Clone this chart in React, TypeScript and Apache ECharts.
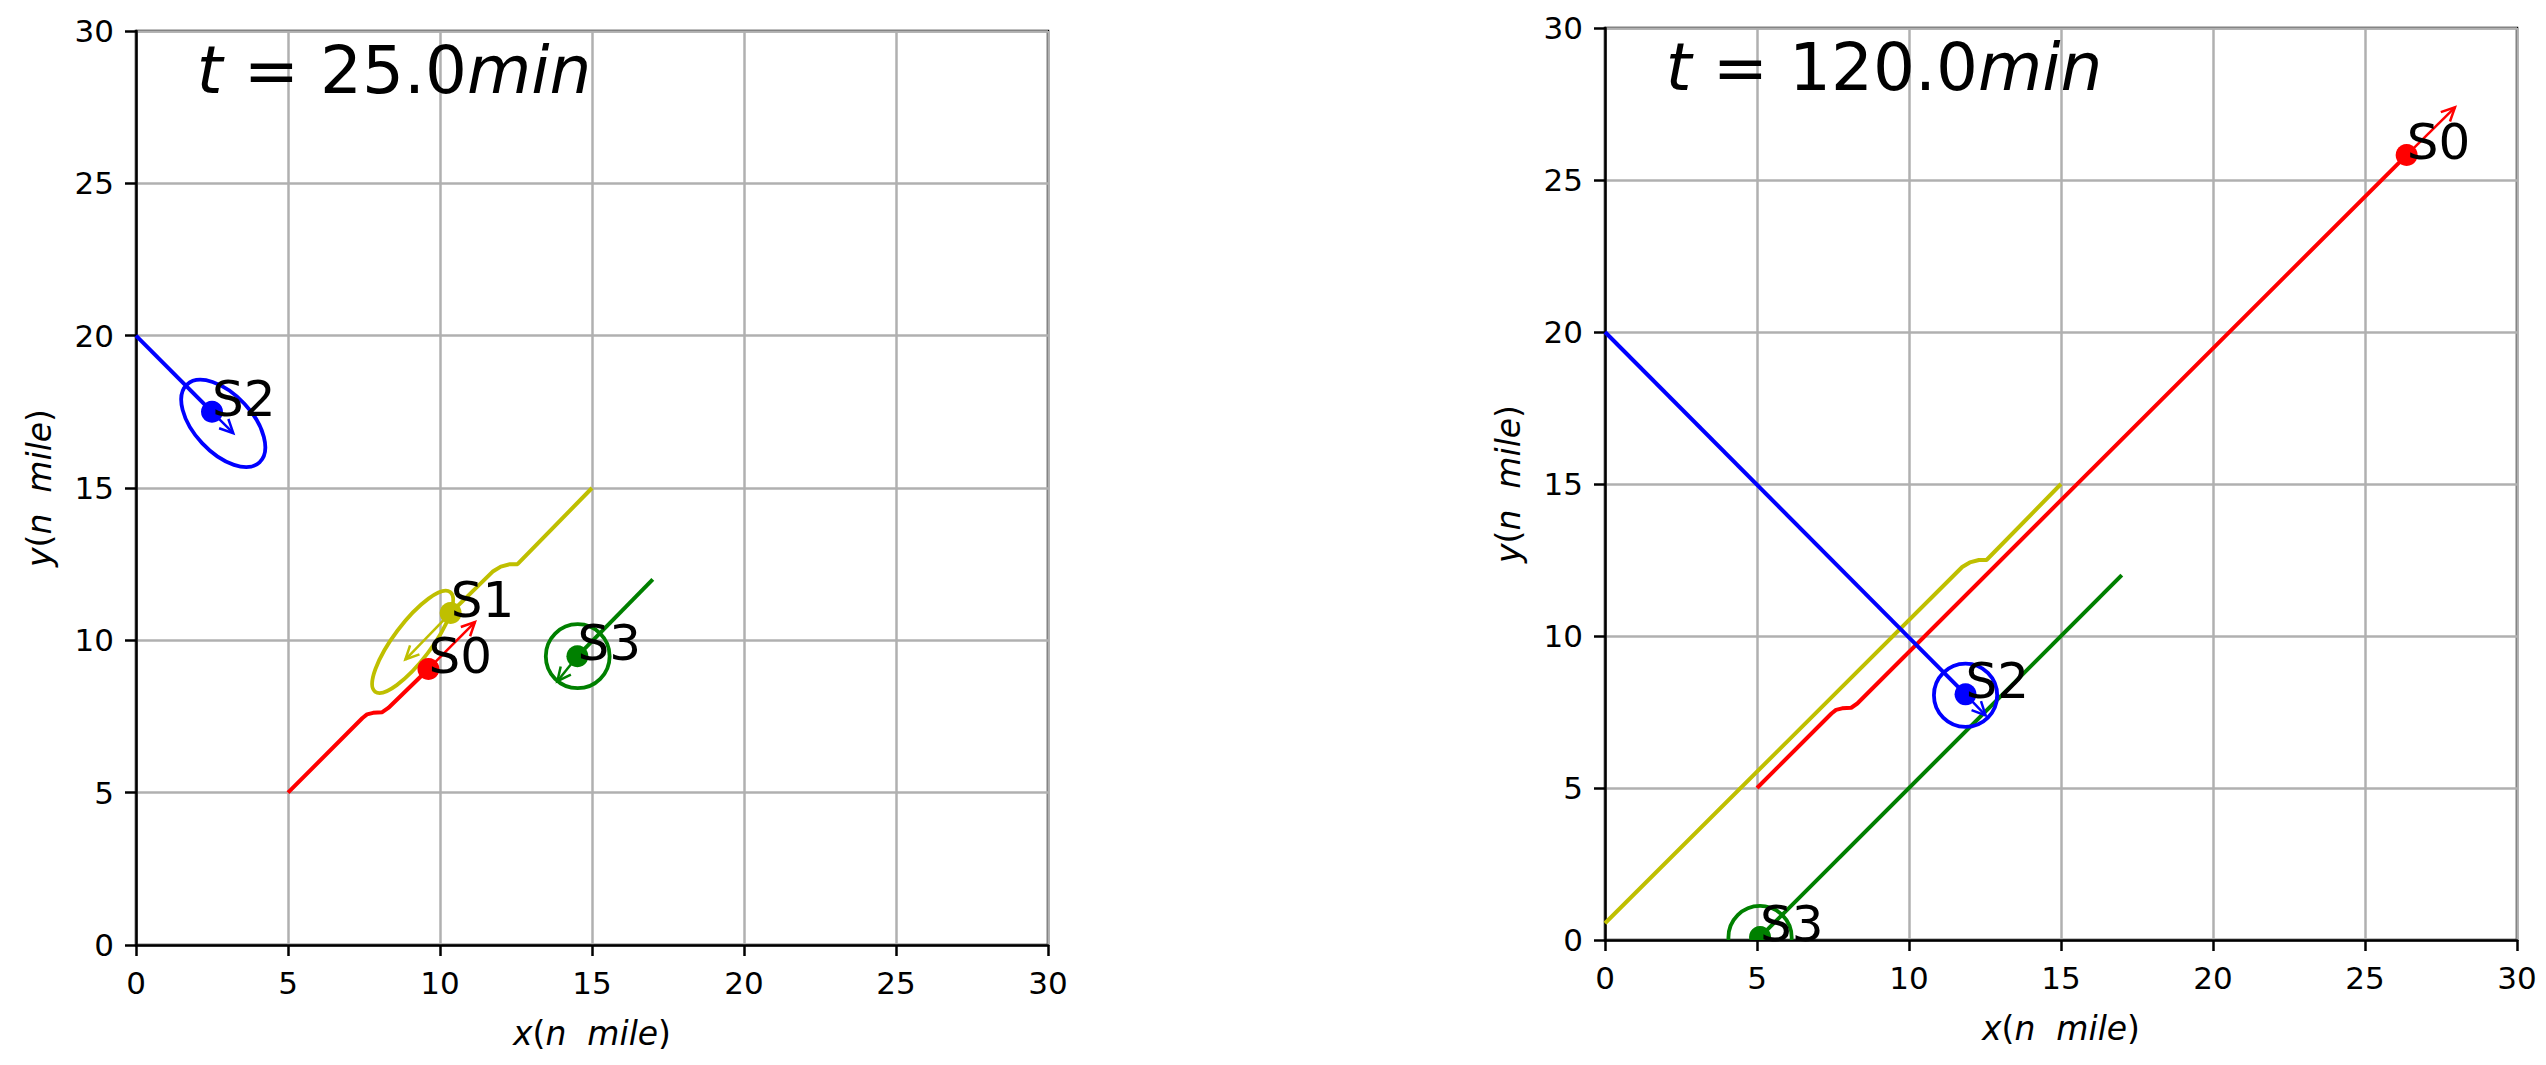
import React, { useEffect, useRef } from "react";
import * as echarts from "echarts";

const FONT = "DejaVu Sans";
const AXIS_MIN = 0;
const AXIS_MAX = 30;
const AXIS_STEP = 5;
const COLORS = ["#ff0000", "#bfbf00", "#0000ff", "#008000"]; // S0..S3
const SHIP_NAMES = ["S0", "S1", "S2", "S3"];
const TIMES = ["25.0", "120.0"];
const TITLE_POS = [2, 27.95];

// ---- Panel 1 : t = 25.0 min ----
const P1_S0_TRACK = [[5, 5], [7.45, 7.45], [7.6, 7.57], [7.8, 7.62], [8.1, 7.64], [8.3, 7.78], [9.62, 9.06]];
const P1_S1_TRACK = [[15, 15], [12.55, 12.5], [12.3, 12.5], [12.0, 12.42], [11.75, 12.27], [10.35, 10.9]];
const P1_S2_TRACK = [[0, 20], [2.5, 17.5]];
const P1_S3_TRACK = [[17, 12], [14.52, 9.48]];
// [x, y, ship]
const P1_SHIPS = [[9.62, 9.06, 0], [10.35, 10.9, 1], [2.5, 17.5, 2], [14.52, 9.48, 3]];
// [x0, y0, x1, y1, ship]
const P1_ARROWS = [[9.62, 9.06, 11.15, 10.6, 0], [10.35, 10.9, 8.86, 9.37, 1], [2.5, 17.5, 3.2, 16.8, 2], [14.52, 9.48, 13.86, 8.66, 3]];
// [cx, cy, semiMajor, semiMinor, angleDeg, ship]
const P1_DOMAINS = [[9.1, 9.95, 2.05, 0.62, 53, 1], [2.87, 17.12, 1.75, 0.95, -47, 2], [14.53, 9.48, 1.05, 1.05, 0, 3]];

// ---- Panel 2 : t = 120.0 min ----
const P2_S0_TRACK = [[5, 5], [7.45, 7.45], [7.6, 7.57], [7.8, 7.62], [8.1, 7.64], [8.3, 7.78], [26.37, 25.82]];
const P2_S1_TRACK = [[15, 15], [12.55, 12.5], [12.3, 12.5], [12.0, 12.42], [11.75, 12.27], [0, 0.55]];
const P2_S2_TRACK = [[0, 20], [11.86, 8.08]];
const P2_S3_TRACK = [[17, 12], [5.1, 0.1]];
const P2_SHIPS = [[26.37, 25.82, 0], [11.86, 8.08, 2], [5.1, 0.1, 3]];
const P2_ARROWS = [[26.37, 25.82, 27.96, 27.39, 0], [11.86, 8.08, 12.52, 7.39, 2], [5.1, 0.1, 4.4, -0.6, 3]];
const P2_DOMAINS = [[11.86, 8.05, 1.04, 1.04, 0, 2], [5.1, 0.08, 1.04, 1.04, 0, 3]];

const TICK_FS = 31;
const NAME_FS = 33;
const LABEL_FS = 50;
const TITLE_FS = 66;

function axisCommon(gi: number, letter: string, isY: boolean) {
  return {
    gridIndex: gi,
    type: "value",
    min: AXIS_MIN,
    max: AXIS_MAX,
    interval: AXIS_STEP,
    name: `{i|${letter}}{r|(}{i|n\u00a0\u00a0mile}{r|)}`,
    nameLocation: "middle",
    nameGap: isY ? 80 : 72,
    nameRotate: isY ? 90 : 0,
    nameTextStyle: {
      fontSize: NAME_FS,
      fontFamily: FONT,
      color: "#000",
      rich: {
        i: { fontStyle: "italic", fontSize: NAME_FS, fontFamily: FONT, color: "#000" },
        r: { fontSize: NAME_FS, fontFamily: FONT, color: "#000" },
      },
    },
    axisLine: { show: true, onZero: false, lineStyle: { color: "#000", width: 2.5 } },
    axisTick: { show: true, inside: false, length: 11, lineStyle: { color: "#000", width: 2.5 } },
    axisLabel: { show: true, margin: 22, color: "#000", fontSize: TICK_FS, fontFamily: FONT },
    splitLine: { show: true, lineStyle: { color: "#b0b0b0", width: 2.5 } },
  };
}

function trackSeries(data: number[][], ship: number, gi: number) {
  return {
    type: "line",
    xAxisIndex: gi,
    yAxisIndex: gi,
    data,
    symbol: "none",
    showSymbol: false,
    clip: true,
    silent: true,
    z: 3,
    lineStyle: { color: COLORS[ship], width: 4 },
    itemStyle: { color: COLORS[ship] },
  };
}

function domainSeries(data: number[][], gi: number) {
  return {
    type: "custom",
    xAxisIndex: gi,
    yAxisIndex: gi,
    clip: true,
    silent: true,
    z: 4,
    data,
    encode: { x: 0, y: 1 },
    renderItem: (_p: any, api: any) => {
      const c = api.coord([api.value(0), api.value(1)]);
      const s = api.size([1, 1]);
      return {
        type: "ellipse",
        x: c[0],
        y: c[1],
        rotation: (api.value(4) * Math.PI) / 180,
        shape: { cx: 0, cy: 0, rx: api.value(2) * s[0], ry: api.value(3) * s[1] },
        style: { fill: "none", stroke: COLORS[api.value(5)], lineWidth: 3.8 },
      };
    },
  };
}

function arrowSeries(data: number[][], gi: number) {
  return {
    type: "custom",
    xAxisIndex: gi,
    yAxisIndex: gi,
    clip: true,
    silent: true,
    z: 5,
    data,
    encode: { x: [0, 2], y: [1, 3] },
    renderItem: (_p: any, api: any) => {
      const p0 = api.coord([api.value(0), api.value(1)]);
      const p1 = api.coord([api.value(2), api.value(3)]);
      const ang = Math.atan2(p1[1] - p0[1], p1[0] - p0[0]);
      const L = 15;
      const w = 0.45;
      const h1 = [p1[0] - L * Math.cos(ang - w), p1[1] - L * Math.sin(ang - w)];
      const h2 = [p1[0] - L * Math.cos(ang + w), p1[1] - L * Math.sin(ang + w)];
      const stroke = COLORS[api.value(4)];
      return {
        type: "group",
        children: [
          { type: "line", shape: { x1: p0[0], y1: p0[1], x2: p1[0], y2: p1[1] }, style: { stroke, lineWidth: 2.5 } },
          { type: "polyline", shape: { points: [h1, p1, h2] }, style: { stroke, fill: "none", lineWidth: 2.5 } },
        ],
      };
    },
  };
}

function dotSeries(data: number[][], gi: number) {
  return {
    type: "custom",
    xAxisIndex: gi,
    yAxisIndex: gi,
    clip: true,
    silent: true,
    z: 6,
    data,
    encode: { x: 0, y: 1 },
    renderItem: (_p: any, api: any) => {
      const c = api.coord([api.value(0), api.value(1)]);
      return {
        type: "circle",
        shape: { cx: c[0], cy: c[1], r: 11 },
        style: { fill: COLORS[api.value(2)], stroke: "none" },
      };
    },
  };
}

function labelSeries(data: number[][], gi: number) {
  return {
    type: "custom",
    xAxisIndex: gi,
    yAxisIndex: gi,
    clip: false,
    silent: true,
    z: 7,
    data,
    encode: { x: 0, y: 1 },
    renderItem: (_p: any, api: any) => {
      const c = api.coord([api.value(0), api.value(1)]);
      return {
        type: "text",
        x: c[0],
        y: c[1] + 12,
        style: {
          text: SHIP_NAMES[api.value(2)],
          fontSize: LABEL_FS,
          fontFamily: FONT,
          fill: "#000",
          align: "left",
          verticalAlign: "bottom",
        },
      };
    },
  };
}

function titleSeries(gi: number) {
  return {
    type: "custom",
    xAxisIndex: gi,
    yAxisIndex: gi,
    clip: false,
    silent: true,
    z: 8,
    data: [[TITLE_POS[0], TITLE_POS[1]]],
    encode: { x: 0, y: 1 },
    renderItem: (_p: any, api: any) => {
      const c = api.coord([api.value(0), api.value(1)]);
      return {
        type: "text",
        x: c[0],
        y: c[1] + 0.154 * TITLE_FS,
        style: {
          text: `{i|t}{r| = ${TIMES[gi]}}{i|min}`,
          fontSize: TITLE_FS,
          fontFamily: FONT,
          fill: "#000",
          align: "left",
          verticalAlign: "bottom",
          rich: {
            i: { fontStyle: "italic", fontSize: TITLE_FS, fontFamily: FONT, fill: "#000", color: "#000" },
            r: { fontSize: TITLE_FS, fontFamily: FONT, fill: "#000", color: "#000" },
          },
        },
      };
    },
  };
}

const option = {
  animation: false,
  backgroundColor: "#ffffff",
  grid: [
    { left: 136, top: 31, width: 912, height: 914, show: true, borderColor: "#000", borderWidth: 2.5, backgroundColor: "transparent" },
    { left: 1605, top: 28, width: 912, height: 912, show: true, borderColor: "#000", borderWidth: 2.5, backgroundColor: "transparent" },
  ],
  xAxis: [axisCommon(0, "x", false), axisCommon(1, "x", false)],
  yAxis: [axisCommon(0, "y", true), axisCommon(1, "y", true)],
  series: [
    trackSeries(P1_S0_TRACK, 0, 0),
    trackSeries(P1_S1_TRACK, 1, 0),
    trackSeries(P1_S2_TRACK, 2, 0),
    trackSeries(P1_S3_TRACK, 3, 0),
    domainSeries(P1_DOMAINS, 0),
    arrowSeries(P1_ARROWS, 0),
    dotSeries(P1_SHIPS, 0),
    labelSeries(P1_SHIPS, 0),
    titleSeries(0),
    trackSeries(P2_S0_TRACK, 0, 1),
    trackSeries(P2_S1_TRACK, 1, 1),
    trackSeries(P2_S2_TRACK, 2, 1),
    trackSeries(P2_S3_TRACK, 3, 1),
    domainSeries(P2_DOMAINS, 1),
    arrowSeries(P2_ARROWS, 1),
    dotSeries(P2_SHIPS, 1),
    labelSeries(P2_SHIPS, 1),
    titleSeries(1),
  ],
};

export default function App() {
  const ref = useRef<HTMLDivElement>(null);
  useEffect(() => {
    const chart = echarts.init(ref.current as HTMLDivElement, null, { renderer: "svg" });
    chart.setOption(option as any);
    return () => chart.dispose();
  }, []);
  return (
    <div
      ref={ref}
      style={{ position: "absolute", left: 0, top: 0, width: 2546, height: 1065, background: "#fff" }}
    />
  );
}
